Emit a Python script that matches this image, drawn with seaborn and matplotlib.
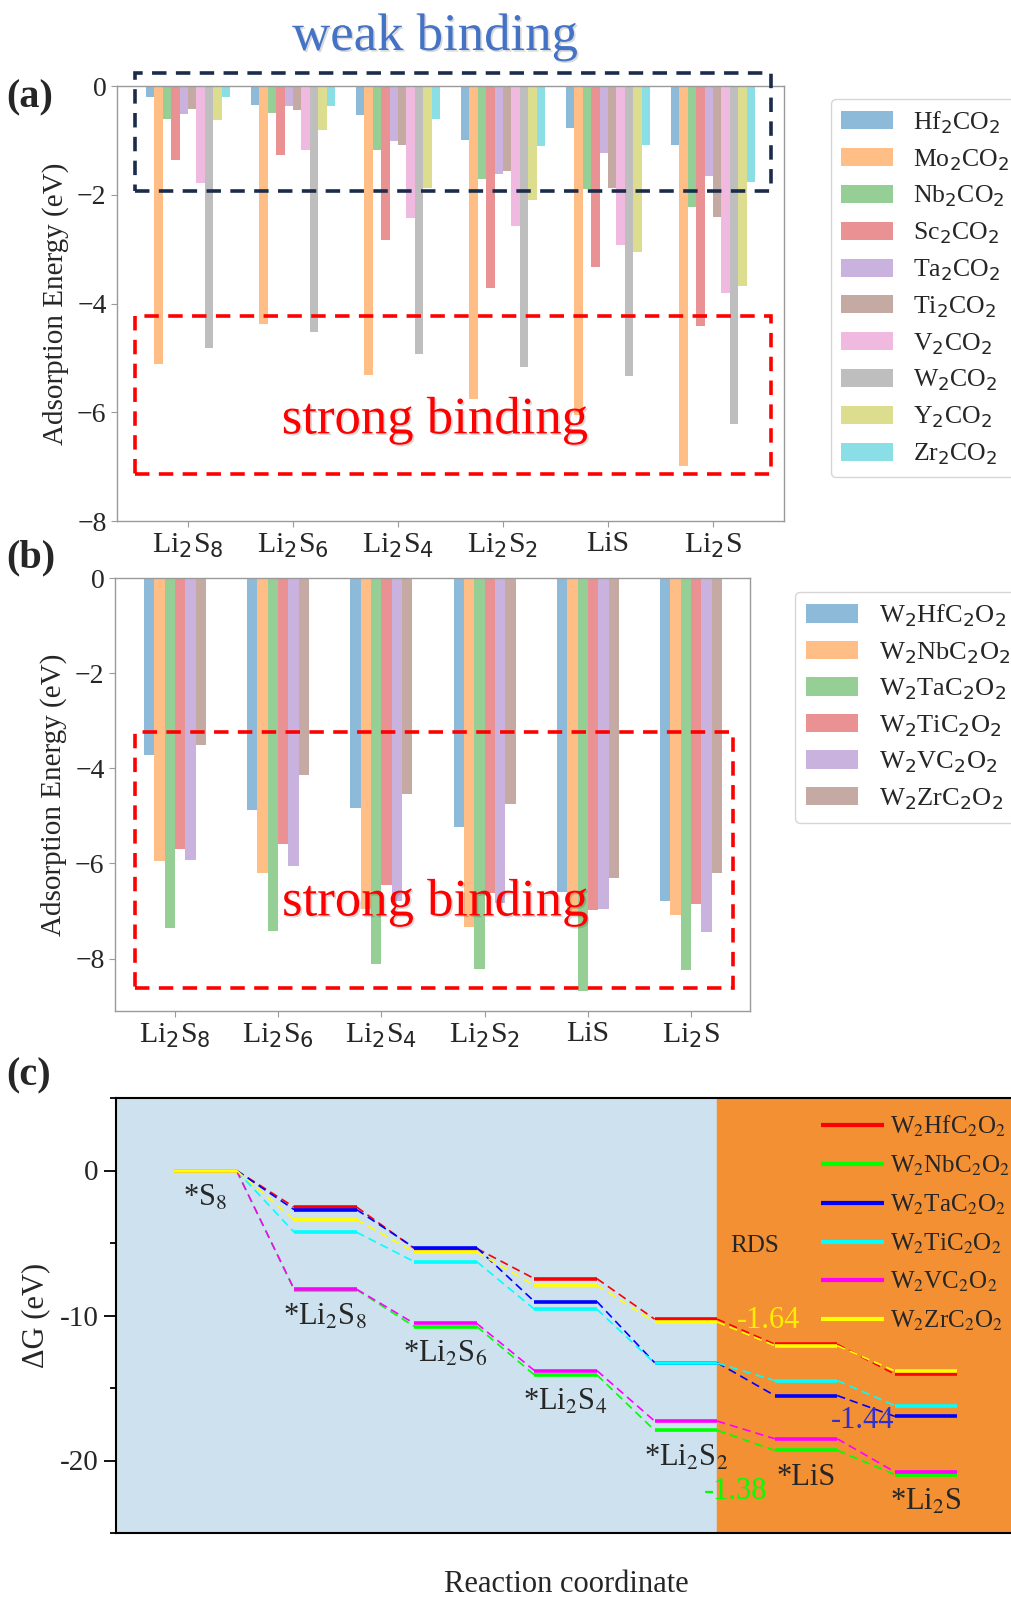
import numpy as np
import pandas as pd
import matplotlib
matplotlib.use("Agg")
import matplotlib.pyplot as plt
import matplotlib.patheffects as pe
from matplotlib.patches import Patch, Rectangle
from matplotlib.ticker import MultipleLocator
from matplotlib.font_manager import FontProperties
import seaborn as sns

# ---------------- data: panel (a) ----------------
species = ['Li$_2$S$_8$', 'Li$_2$S$_6$', 'Li$_2$S$_4$', 'Li$_2$S$_2$', 'LiS', 'Li$_2$S']
hosts_a = ['Hf$_2$CO$_2$', 'Mo$_2$CO$_2$', 'Nb$_2$CO$_2$', 'Sc$_2$CO$_2$', 'Ta$_2$CO$_2$',
           'Ti$_2$CO$_2$', 'V$_2$CO$_2$', 'W$_2$CO$_2$', 'Y$_2$CO$_2$', 'Zr$_2$CO$_2$']
hf2co2 = [-0.21, -0.35, -0.53, -1.00, -0.77, -1.09]
mo2co2 = [-5.12, -4.37, -5.31, -5.75, -6.05, -6.98]
nb2co2 = [-0.61, -0.49, -1.17, -1.71, -1.89, -2.23]
sc2co2 = [-1.36, -1.27, -2.84, -3.71, -3.33, -4.42]
ta2co2 = [-0.52, -0.37, -1.02, -1.61, -1.24, -1.66]
ti2co2 = [-0.42, -0.45, -1.08, -1.56, -1.88, -2.40]
v2co2 = [-1.79, -1.17, -2.43, -2.58, -2.93, -3.80]
w2co2 = [-4.82, -4.53, -4.93, -5.16, -5.33, -6.21]
y2co2 = [-0.62, -0.80, -1.88, -2.10, -3.05, -3.68]
zr2co2 = [-0.21, -0.37, -0.61, -1.10, -1.09, -1.76]
vals_a = [hf2co2, mo2co2, nb2co2, sc2co2, ta2co2, ti2co2, v2co2, w2co2, y2co2, zr2co2]

# ---------------- data: panel (b) ----------------
hosts_b = ['W$_2$HfC$_2$O$_2$', 'W$_2$NbC$_2$O$_2$', 'W$_2$TaC$_2$O$_2$',
           'W$_2$TiC$_2$O$_2$', 'W$_2$VC$_2$O$_2$', 'W$_2$ZrC$_2$O$_2$']
w2hf = [-3.73, -4.88, -4.84, -5.24, -6.60, -6.79]
w2nb = [-5.94, -6.20, -6.95, -7.33, -7.05, -7.09]
w2ta = [-7.36, -7.41, -8.11, -8.22, -8.67, -8.24]
w2ti = [-5.70, -5.59, -6.46, -6.63, -6.98, -6.85]
w2v = [-5.92, -6.05, -6.78, -6.84, -6.95, -7.43]
w2zr = [-3.52, -4.15, -4.53, -4.76, -6.30, -6.20]
vals_b = [w2hf, w2nb, w2ta, w2ti, w2v, w2zr]

# ---------------- data: panel (c) ----------------
steps = ['*S$_8$', '*Li$_2$S$_8$', '*Li$_2$S$_6$', '*Li$_2$S$_4$', '*Li$_2$S$_2$', '*LiS', '*Li$_2$S']
g_hf = [0, -2.52, -5.38, -7.46, -10.25, -11.98, -14.05]
g_nb = [0, -8.22, -10.76, -14.10, -17.92, -19.30, -20.97]
g_ta = [0, -2.70, -5.33, -9.04, -13.25, -15.52, -16.96]
g_ti = [0, -4.26, -6.29, -9.57, -13.28, -14.49, -16.21]
g_v = [0, -8.19, -10.55, -13.80, -17.28, -18.50, -20.79]
g_zr = [0, -3.39, -5.63, -7.92, -10.44, -12.08, -13.83]
vals_c = [g_hf, g_nb, g_ta, g_ti, g_v, g_zr]
colors_c = ['red', 'lime', 'blue', 'cyan', 'magenta', 'yellow']
rds_text = ['-1.64', '-1.44', '-1.38']

# ---------------- style ----------------
sns.set_style("white")
plt.rcParams['font.family'] = ['Liberation Serif', 'DejaVu Serif']
plt.rcParams['font.size'] = 20

W, H = 1011, 1597
fig = plt.figure(figsize=(W / 100, H / 100), dpi=100)


def box(l, t, r, b):
    return [l / W, 1 - b / H, (r - l) / W, (b - t) / H]


ax_a = fig.add_axes(box(117, 86, 784, 521))
ax_b = fig.add_axes(box(115, 578, 750, 1011))
ax_c = fig.add_axes(box(116, 1098, 1016, 1533))

pal10 = sns.color_palette('tab10', 10)


def bar_panel(ax, hosts, vals, width):
    df = pd.DataFrame({
        'species': np.tile(species, len(hosts)),
        'host': np.repeat(hosts, len(species)),
        'energy': np.concatenate(vals),
    })
    sns.barplot(data=df, x='species', y='energy', hue='host', palette=pal10[:len(hosts)],
                saturation=1, alpha=0.5, width=width, linewidth=0, errorbar=None,
                legend=False, ax=ax)
    ax.set_xlabel('')
    ax.set_ylabel('Adsorption Energy (eV)', fontsize=21, labelpad=6)
    for s in ax.spines.values():
        s.set_color('#9a9a9a')
        s.set_linewidth(1.0)
    ax.tick_params(axis='both', direction='out', length=4, color='#9a9a9a',
                   labelsize=20, bottom=True, left=True)
    ax.tick_params(axis='x', labelsize=21.5)
    handles = [Patch(facecolor=c, alpha=0.5, edgecolor='none') for c in pal10[:len(hosts)]]
    return handles


# soft shadow under the annotation words
shadow = [pe.SimplePatchShadow(offset=(1.2, -1.2), shadow_rgbFace='k', alpha=0.15), pe.Normal()]

# ---------------- panel (a) ----------------
h_a = bar_panel(ax_a, hosts_a, vals_a, 0.8)
ax_a.set_xlim(-0.676, 5.676)
ax_a.set_ylim(-8, 0)
ax_a.set_yticks([0, -2, -4, -6, -8])
ax_a.legend(h_a, hosts_a, loc='upper left', bbox_to_anchor=(831 / W, 1 - 99 / H),
            bbox_transform=fig.transFigure, borderaxespad=0, fontsize=18.5,
            labelspacing=0.44, handlelength=2.0, frameon=True)

ax_a.add_patch(Rectangle((-0.50, -1.93), 6.05, 2.17, fill=False, ec='#1b2b4b', lw=2.6,
                         ls=(0, (4, 2.6)), clip_on=False, zorder=5))
ax_a.add_patch(Rectangle((-0.50, -7.14), 6.05, 2.91, fill=False, ec='#ff0000', lw=2.6,
                         ls=(0, (4, 2.6)), clip_on=False, zorder=5))
ax_a.text(2.35, -6.15, 'strong binding', color='#ff0000', fontsize=38, ha='center',
          va='center', path_effects=shadow, zorder=6)
fig.text(435 / W, 1 - 37 / H, 'weak binding', color='#4472c4', fontsize=38, ha='center',
         va='center', path_effects=shadow)

# ---------------- panel (b) ----------------
h_b = bar_panel(ax_b, hosts_b, vals_b, 0.6)
ax_b.set_xlim(-0.58, 5.57)
ax_b.set_ylim(-9.1, 0)
ax_b.set_yticks([0, -2, -4, -6, -8])
ax_b.legend(h_b, hosts_b, loc='upper left', bbox_to_anchor=(795 / W, 1 - 592 / H),
            bbox_transform=fig.transFigure, borderaxespad=0, fontsize=19,
            labelspacing=0.42, handlelength=2.0, frameon=True)
ax_b.add_patch(Rectangle((-0.39, -8.62), 5.80, 5.39, fill=False, ec='#ff0000', lw=2.6,
                         ls=(0, (4, 2.6)), clip_on=False, zorder=5))
ax_b.text(2.52, -6.82, 'strong binding', color='#ff0000', fontsize=38, ha='center',
          va='center', path_effects=shadow, zorder=6)

# ---------------- panel (c) ----------------
lw_lvl = 0.52
n = len(steps)
ax_c.axvspan(-1, n - 3 + lw_lvl, color='#cde2ee', zorder=0)
ax_c.axvspan(n - 3 + lw_lvl, n + 1, color='#f39033', zorder=0)
mfp = dict(math_fontfamily='stix')
for vals, col, lab in zip(vals_c, colors_c, hosts_b):
    for i, v in enumerate(vals):
        ax_c.plot([i, i + lw_lvl], [v, v], color=col, lw=2.6, solid_capstyle='butt',
                  label=lab if i == 0 else None, zorder=3)
        if i + 1 < n:
            ax_c.plot([i + lw_lvl, i + 1], [v, vals[i + 1]], color=col, lw=1.2,
                      ls=(0, (5, 3)), zorder=2)

for i, s in enumerate(steps):
    low = min(v[i] for v in vals_c)
    ax_c.text(i + 0.26, low - 0.9, s, ha='center', va='top', fontsize=22, **mfp)

ax_c.text(4.83, -5.24, 'RDS', ha='center', va='center', fontsize=18)
ax_c.text(4.95, -10.32, rds_text[0], color='#ffee00', ha='center', va='center', fontsize=22)
ax_c.text(5.73, -17.22, rds_text[1], color='#3030d0', ha='center', va='center', fontsize=22)
ax_c.text(4.675, -22.17, rds_text[2], color='lime', ha='center', va='center', fontsize=22)

ax_c.set_xlim(-0.483, 7.008)
ax_c.set_ylim(-25, 5)
ax_c.set_xticks([])
cticks = [0, -10, -20]
ax_c.set_yticks(cticks, labels=[str(t) for t in cticks])
ax_c.yaxis.set_minor_locator(MultipleLocator(5))
ax_c.tick_params(axis='y', which='major', direction='out', length=9, width=1.3,
                 labelsize=21, left=True, color='k')
ax_c.tick_params(axis='y', which='minor', direction='out', length=4.5, width=1.3,
                 left=True, color='k')
for s in ax_c.spines.values():
    s.set_color('k')
    s.set_linewidth(1.5)
ax_c.set_ylabel('ΔG (eV)', fontsize=22, labelpad=7)
ax_c.set_xlabel('Reaction coordinate', fontsize=22, labelpad=27)
leg_c = ax_c.legend(loc='upper left', bbox_to_anchor=(821 / W, 1 - 1114 / H),
                    bbox_transform=fig.transFigure, borderaxespad=0, borderpad=0,
                    frameon=False, handlelength=2.5, handletextpad=0.25,
                    labelspacing=0.58,
                    prop=FontProperties(family='Liberation Serif', size=18, math_fontfamily='stix'))
for line in leg_c.get_lines():
    line.set_linewidth(3)

# panel letters
for lab, y in [('(a)', 79), ('(b)', 539), ('(c)', 1057)]:
    fig.text(6 / W, 1 - y / H, lab, fontsize=29, fontweight='bold', ha='left', va='top')

fig.savefig('out.png', dpi=100)
